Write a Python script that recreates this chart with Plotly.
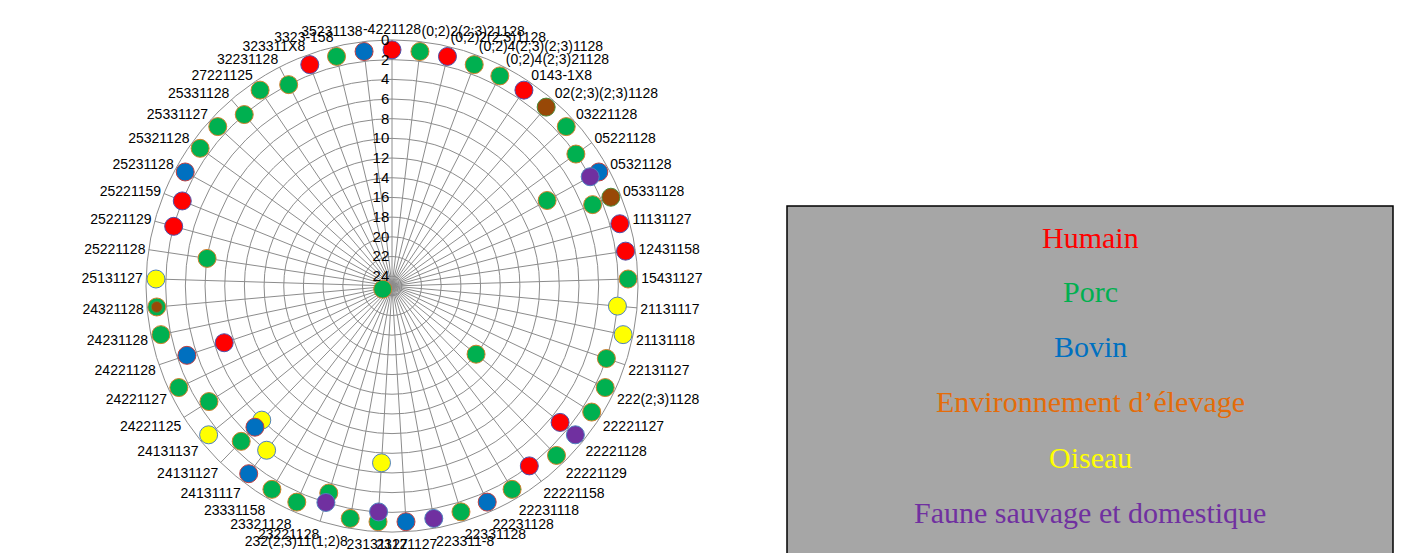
import plotly.graph_objects as go

# Isolate profiles, clockwise from the top of the radar
categories = [
    "-4221128", "(0;2)2(2;3)21128", "(0;2)2(2;3)1128", "(0;2)4(2;3)(2;3)1128",
    "(0;2)4(2;3)21128", "0143-1X8", "02(2;3)(2;3)1128", "03221128", "05221128",
    "05321128", "05331128", "11131127", "12431158", "15431127", "21131117",
    "21131118", "22131127", "222(2;3)1128", "22221127", "22221128", "22221129",
    "22221158", "22231118", "22231128", "22331128", "223311-8", "23121127",
    "23131127", "232(2;3)11(1;2)8", "23221128", "23321128", "23331158",
    "24131117", "24131127", "24131137", "24221125", "24221127", "24221128",
    "24231128", "24321128", "25131127", "25221128", "25221129", "25221159",
    "25231128", "25321128", "25331127", "25331128", "27221125", "32231128",
    "323311X8", "3323-158", "35231138",
]

# Positions (index into categories) and values for each host group
humain_pos = [0, 2, 5, 11, 12, 19, 21, 37, 42, 43, 50]
humain_val = [1, 1, 1, 1, 1, 3, 2, 7, 2, 2, 1]

porc_pos = [1, 3, 4, 7, 8, 9, 10, 13, 16, 17, 18, 19, 20, 22, 24, 27, 28, 29,
            30, 31, 33, 35, 36, 37, 38, 39, 41, 45, 46, 47, 48, 49, 51]
porc_val = [1, 1, 1, 1, 2, 7, 3, 1, 2, 1, 1, 14, 1, 1, 1, 1, 1, 3,
            1, 1, 3, 3, 1, 24, 1, 1, 6, 1, 1, 2, 1, 2, 1]

oiseau_pos = [14, 15, 27, 32, 33, 34, 40]
oiseau_val = [2, 1, 7, 4, 6, 1, 1]

bovin_pos = [9, 23, 26, 32, 33, 37, 44, 52]
bovin_val = [1, 1, 1, 1, 5, 3, 1, 1]

env_pos = [6, 10, 39]
env_val = [1, 1, 1]

faune_pos = [9, 19, 25, 27, 29]
faune_val = [2, 1, 1, 2, 2]

radial_ticks = list(range(0, 25, 2))
radial_max = 25

legend_labels = ["Humain", "Porc", "Bovin", "Environnement d’élevage",
                 "Oiseau", "Faune sauvage et domestique"]
legend_colors = ["#FF0000", "#00B050", "#0070C0", "#E46C0A", "#FFFF00", "#7030A0"]

fig = go.Figure()


def add_group(pos, vals, fill, edge, size=18):
    fig.add_trace(go.Scatterpolar(
        theta=[categories[i] for i in pos],
        r=vals,
        mode="markers",
        marker=dict(size=size, color=fill, opacity=1,
                    line=dict(color=edge, width=1)),
        showlegend=False,
        hoverinfo="skip",
    ))


add_group(humain_pos, humain_val, "#FF0000", "#5050A8")
add_group(porc_pos, porc_val, "#00B050", "#D0802E")
add_group(oiseau_pos, oiseau_val, "#FFFF00", "#4F81BD")
add_group(bovin_pos, bovin_val, "#0070C0", "#C04040")
add_group(env_pos, env_val, "#984807", "#4E8A3A", size=[18, 18, 11])
add_group(faune_pos, faune_val, "#7030A0", "#4F81BD")

grid = "#8C8C8C"
cx, cy, rad = 392, 286, 246
fig.update_layout(
    width=1402, height=553,
    margin=dict(l=0, r=0, t=0, b=0),
    paper_bgcolor="white",
    font=dict(family="Liberation Sans, Arial, sans-serif", size=14, color="black"),
    polar=dict(
        domain=dict(x=[(cx - rad) / 1402, (cx + rad) / 1402],
                    y=[(553 - cy - rad) / 553, (553 - cy + rad) / 553]),
        bgcolor="white",
        radialaxis=dict(
            range=[radial_max, 0],
            tickvals=radial_ticks,
            angle=90,
            tickangle=90,
            side="counterclockwise",
            showline=False,
            ticks="",
            gridcolor=grid,
            gridwidth=1,
            tickfont=dict(size=15, color="black"),
        ),
        angularaxis=dict(
            type="category",
            categoryorder="array",
            categoryarray=categories,
            direction="clockwise",
            rotation=90,
            showline=True,
            linecolor=grid,
            linewidth=1,
            gridcolor=grid,
            gridwidth=1,
            ticks="",
            tickfont=dict(size=14, color="black"),
        ),
    ),
)

# Legend panel
fig.add_shape(type="rect", xref="paper", yref="paper",
              x0=787 / 1402, x1=1393 / 1402, y0=-0.02, y1=1 - 206 / 553,
              fillcolor="#A6A6A6", line=dict(color="black", width=1.5), layer="below")

legend_y = [237, 291, 346, 401, 457, 512]
for label, color, yp in zip(legend_labels, legend_colors, legend_y):
    fig.add_annotation(
        x=1090 / 1402, y=1 - yp / 553, xref="paper", yref="paper",
        text=label, showarrow=False, xanchor="center", yanchor="middle",
        font=dict(family="Liberation Serif, Times New Roman, serif", size=30, color=color),
    )

fig.write_html("out.html")
